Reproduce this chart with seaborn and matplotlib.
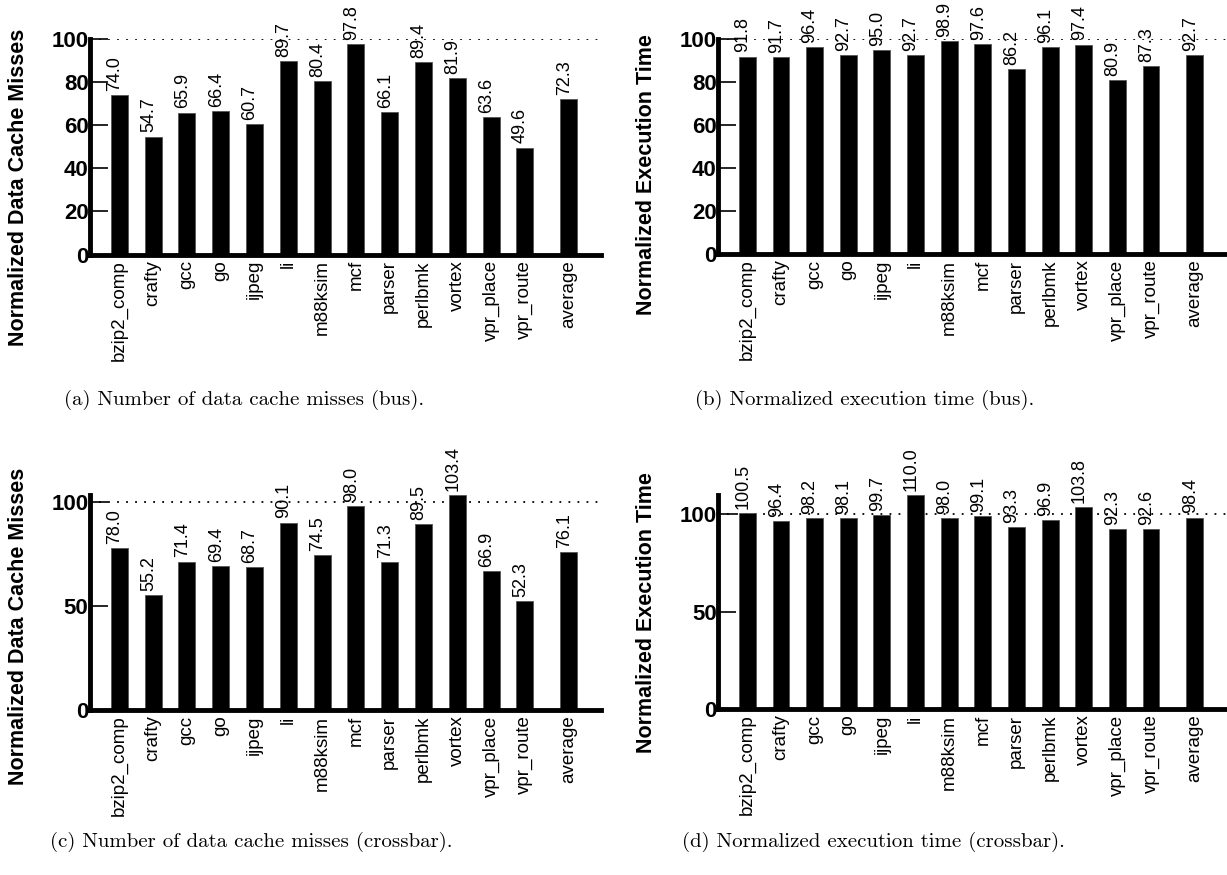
import matplotlib
matplotlib.use("Agg")
import matplotlib.pyplot as plt
import pandas as pd
import seaborn as sns

# Benchmarks (the average bar sits a little apart from the rest)
benchmarks = ["bzip2_comp", "crafty", "gcc", "go", "ijpeg", "li", "m88ksim",
              "mcf", "parser", "perlbmk", "vortex", "vpr_place", "vpr_route",
              "average"]
slots = [0, 1, 2, 3, 4, 5, 6, 7, 8, 9, 10, 11, 12, 13.3]

misses_bus = [74.0, 54.7, 65.9, 66.4, 60.7, 89.7, 80.4, 97.8, 66.1, 89.4,
              81.9, 63.6, 49.6, 72.3]
time_bus = [91.8, 91.7, 96.4, 92.7, 95.0, 92.7, 98.9, 97.6, 86.2, 96.1,
            97.4, 80.9, 87.3, 92.7]
misses_xbar = [78.0, 55.2, 71.4, 69.4, 68.7, 90.1, 74.5, 98.0, 71.3, 89.5,
               103.4, 66.9, 52.3, 76.1]
time_xbar = [100.5, 96.4, 98.2, 98.1, 99.7, 110.0, 98.0, 99.1, 93.3, 96.9,
             103.8, 92.3, 92.6, 98.4]

sns.set_style("ticks")
plt.rcParams["font.family"] = ["Liberation Sans", "DejaVu Sans"]
for key in ("text.color", "axes.labelcolor", "xtick.color", "ytick.color",
            "axes.edgecolor"):
    plt.rcParams[key] = "black"

fig = plt.figure(figsize=(12.27, 8.75), dpi=100)

panels = [
    dict(values=misses_bus, ylabel="Normalized Data Cache Misses",
         yticks=[0, 20, 40, 60, 80, 100],
         caption="(a) Number of data cache misses (bus).",
         rect=[0.0733, 0.7091, 0.4165, 0.2463], label_y=0.31,
         cap_xy=(0.199, 0.543)),
    dict(values=time_bus, ylabel="Normalized Execution Time",
         yticks=[0, 20, 40, 60, 80, 100],
         caption="(b) Normalized execution time (bus).",
         rect=[0.5852, 0.7097, 0.4146, 0.2457], label_y=0.37,
         cap_xy=(0.705, 0.543)),
    dict(values=misses_xbar, ylabel="Normalized Data Cache Misses",
         yticks=[0, 50, 100],
         caption="(c) Number of data cache misses (crossbar).",
         rect=[0.0733, 0.1886, 0.4165, 0.2457], label_y=0.39,
         cap_xy=(0.205, 0.038)),
    dict(values=time_xbar, ylabel="Normalized Execution Time",
         yticks=[0, 50, 100],
         caption="(d) Normalized execution time (crossbar).",
         rect=[0.5852, 0.1897, 0.4146, 0.2446], label_y=0.45,
         cap_xy=(0.712, 0.038)),
]

for p in panels:
    ax = fig.add_axes(p["rect"])
    df = pd.DataFrame({"slot": slots, "value": p["values"]})

    # reference level at 100 %
    ax.axhline(100, color="black", lw=1.3, ls=(0, (1, 4)), zorder=0.5)

    sns.barplot(data=df, x="slot", y="value", native_scale=True, width=0.5,
                color="black", edgecolor="#555555", linewidth=0.6,
                saturation=1, ax=ax, zorder=2)

    for s, v in zip(slots, p["values"]):
        ax.annotate(f"{v:.1f}", (s, v), xytext=(0, 3),
                    textcoords="offset points", rotation=90,
                    rotation_mode="anchor", ha="left", va="baseline",
                    fontsize=13, color="black", zorder=3,
                    annotation_clip=False)

    ax.set_xlim(-0.87, 14.25)
    ax.set_ylim(0, max(100, max(p["values"])))
    ax.set_xticks(slots)
    ax.set_xticklabels(benchmarks, rotation=90, fontsize=13.5)
    ax.set_yticks(p["yticks"])
    ax.set_yticklabels([str(t) for t in p["yticks"]], fontsize=16,
                       fontweight="bold")
    ax.tick_params(axis="x", length=0, pad=4, colors="black")
    ax.tick_params(axis="y", direction="in", length=13, width=1.2, pad=1,
                   colors="black")

    ax.set_xlabel("")
    ax.set_ylabel(p["ylabel"], fontsize=15.5, fontweight="bold",
                  color="black")
    ax.yaxis.set_label_coords(-0.12, p["label_y"])

    for side in ("top", "right"):
        ax.spines[side].set_visible(False)
    for side in ("left", "bottom"):
        ax.spines[side].set_linewidth(3.5)
        ax.spines[side].set_color("black")
    ax.set_facecolor("white")

    fig.text(p["cap_xy"][0], p["cap_xy"][1], p["caption"], ha="center",
             va="center", fontfamily="cmr10", fontsize=15, color="black")

fig.savefig("out.png", dpi=100, facecolor="white")
